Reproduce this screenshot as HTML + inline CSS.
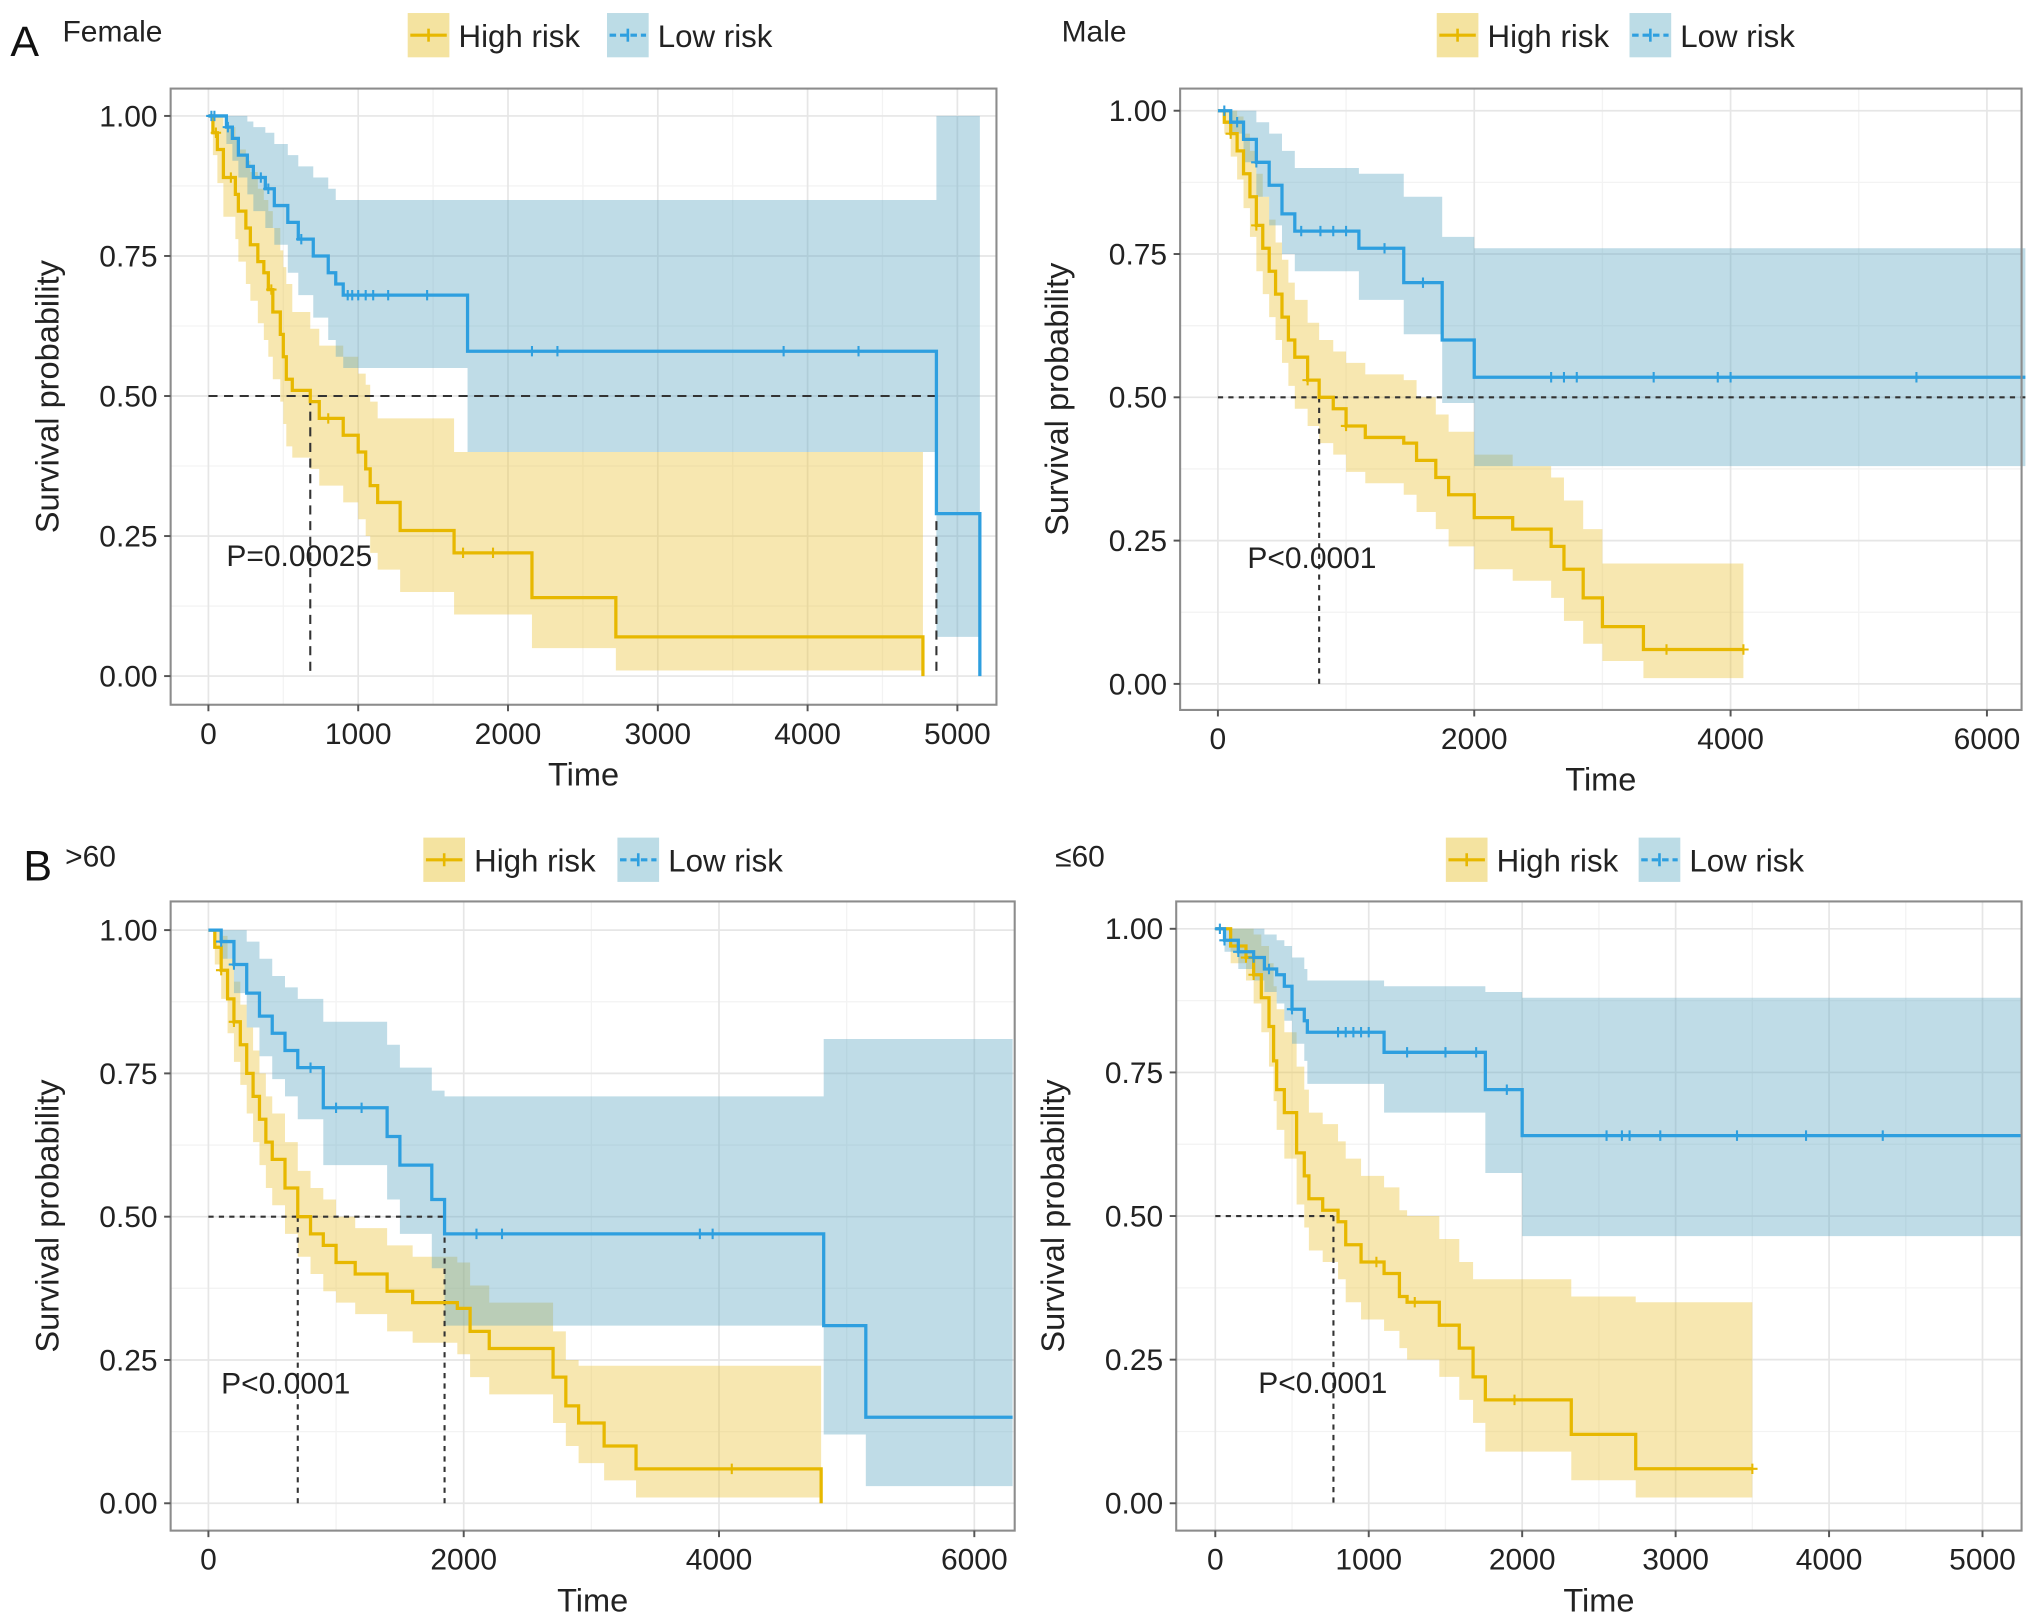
<!DOCTYPE html>
<html><head><meta charset="utf-8"><style>
html,body{margin:0;padding:0;background:#fff;}
svg{display:block;font-family:"Liberation Sans",Arial,sans-serif;}
</style></head><body>
<svg id="chart" xmlns="http://www.w3.org/2000/svg" width="2032" height="1614" viewBox="0 0 1560 1239" preserveAspectRatio="none"></svg>
<script>
// ---------- Female ----------
const fHighT=[0,30,60,100,180,200,250,280,330,370,400,430,480,500,520,560,680,740,900,1000,1050,1080,1130,1280,1640,2160,2720,4770];
const fHighS=[1,.97,.94,.89,.86,.83,.80,.77,.74,.72,.69,.65,.61,.57,.53,.51,.49,.46,.43,.40,.37,.34,.31,.26,.22,.14,.07,0];
const fHighHi=[1,1,1,.98,.96,.94,.92,.90,.87,.85,.83,.80,.76,.73,.70,.65,.62,.59,.57,.54,.52,.49,.46,.46,.40,.40,.40,0];
const fHighLo=[1,.93,.88,.82,.78,.74,.70,.67,.63,.60,.57,.53,.49,.45,.41,.39,.37,.34,.31,.28,.25,.22,.19,.15,.11,.05,.01,0];
const fHighCens=[50,150,420,800,1700,1900];
const fLowT=[0,120,160,200,260,300,380,440,530,600,700,800,850,900,1730,4860,5150];
const fLowS=[1,.98,.96,.93,.91,.89,.87,.84,.81,.78,.75,.72,.70,.68,.58,.29,0];
const fLowHi=[1,1,1,1,.99,.98,.97,.95,.93,.91,.89,.87,.85,.85,.85,1,0];
const fLowLo=[1,.95,.92,.89,.86,.83,.80,.77,.72,.68,.64,.60,.57,.55,.40,.07,0];
const fLowCens=[20,40,130,350,400,620,930,960,1000,1050,1100,1200,1460,2160,2330,3840,4340];
// ---------- Male ----------
const mHighT=[0,50,100,150,200,250,300,350,400,450,500,550,600,700,790,900,1000,1150,1450,1550,1700,1800,2000,2300,2600,2700,2850,3000,3320];
const mHighS=[1,.98,.96,.93,.89,.85,.80,.76,.72,.68,.64,.60,.57,.53,.50,.48,.45,.43,.42,.39,.36,.33,.29,.27,.24,.20,.15,.10,.06];
const mHighHi=[1,1,1,.99,.96,.93,.89,.85,.81,.77,.74,.70,.67,.63,.60,.58,.56,.54,.53,.50,.47,.44,.40,.38,.36,.32,.27,.21,.21];
const mHighLo=[1,.96,.92,.88,.83,.78,.72,.68,.64,.60,.56,.52,.48,.45,.42,.40,.37,.35,.33,.30,.27,.24,.20,.18,.15,.11,.07,.04,.01];
const mHighCens=[100,300,700,1000,3500,4100];
const mLowT=[0,100,200,300,400,500,600,1100,1450,1750,2000];
const mLowS=[1,.98,.95,.91,.87,.82,.79,.76,.70,.60,.535];
const mLowHi=[1,1,1,.98,.96,.93,.90,.89,.85,.78,.76];
const mLowLo=[1,.96,.91,.85,.80,.75,.72,.67,.61,.49,.38];
const mLowCens=[50,150,300,650,800,900,1000,1300,1600,2600,2700,2800,3400,3900,4000,5450];
// ---------- >60 ----------
const oHighT=[0,50,100,150,200,250,300,350,400,450,500,600,700,800,900,1000,1150,1400,1600,1950,2050,2200,2700,2800,2900,3100,3350,4800];
const oHighS=[1,.97,.93,.88,.84,.80,.75,.71,.67,.63,.60,.55,.50,.47,.45,.42,.40,.37,.35,.34,.30,.27,.22,.17,.14,.10,.06,0];
const oHighHi=[1,1,.99,.95,.91,.87,.83,.79,.75,.71,.68,.63,.58,.55,.53,.50,.48,.45,.43,.42,.38,.35,.30,.25,.24,.24,.24,0];
const oHighLo=[1,.94,.88,.82,.77,.73,.68,.63,.59,.55,.52,.47,.43,.40,.37,.35,.33,.30,.28,.26,.22,.19,.14,.10,.07,.04,.01,0];
const oHighCens=[100,200,4100];
const oLowT=[0,100,200,300,400,500,600,700,900,1400,1500,1750,1850,4820,5150];
const oLowS=[1,.98,.94,.89,.85,.82,.79,.76,.69,.64,.59,.53,.47,.31,.15];
const oLowHi=[1,1,1,.98,.95,.92,.90,.88,.84,.80,.76,.72,.71,.81,.81];
const oLowLo=[1,.95,.89,.83,.78,.74,.71,.67,.59,.53,.47,.41,.31,.12,.03];
const oLowCens=[100,200,800,1000,1200,2100,2300,3850,3950];
// ---------- <=60 ----------
const yHighT=[0,100,200,250,300,350,380,400,450,530,580,610,700,800,850,950,1100,1200,1250,1460,1590,1680,1760,2320,2740];
const yHighS=[1,.97,.95,.92,.88,.83,.77,.72,.68,.61,.57,.53,.51,.49,.45,.42,.40,.36,.35,.31,.27,.22,.18,.12,.06];
const yHighHi=[1,1,1,.99,.97,.94,.90,.86,.82,.76,.72,.68,.66,.63,.60,.57,.55,.51,.50,.46,.42,.39,.39,.36,.35];
const yHighLo=[1,.94,.91,.87,.82,.76,.70,.65,.60,.52,.48,.44,.42,.39,.35,.32,.30,.27,.25,.22,.18,.14,.09,.04,.01];
const yHighCens=[150,200,250,1050,1300,1950,3500];
const yLowT=[0,60,150,250,320,400,450,500,580,600,1100,1760,2000];
const yLowS=[1,.98,.96,.95,.93,.92,.90,.86,.84,.82,.785,.72,.64];
const yLowHi=[1,1,1,1,.99,.98,.97,.95,.93,.91,.90,.89,.88];
const yLowLo=[1,.96,.93,.91,.89,.87,.84,.80,.77,.73,.68,.575,.465];
const yLowCens=[30,60,150,250,350,500,800,850,900,950,1000,1250,1500,1700,1900,2550,2650,2700,2900,3400,3850,4350];
const yTicks=["0.00","0.25","0.50","0.75","1.00"];

const NS="http://www.w3.org/2000/svg";
const svg=document.getElementById('chart');
function el(tag,attrs,parent,text){const e=document.createElementNS(NS,tag);for(const k in attrs)e.setAttribute(k,attrs[k]);if(text!==undefined)e.textContent=text;(parent||svg).appendChild(e);return e;}
const HC="#E7B800",LC="#2E9FDF";

const panels=[
 {name:'female',box:[131,68,765,541],x0:160,xPer:115,y1:89,y0:519,xTicks:[0,1000,2000,3000,4000,5000],xMinor:500,
  high:[fHighT,fHighS,fHighHi,fHighLo,fHighCens,4770],low:[fLowT,fLowS,fLowHi,fLowLo,fLowCens,5150],
  pText:"P=0.00025",pT:120,pY:.215,medH:[680,4860],medLine:4860,dash:"7,5",
  title:"Female",titleX:48,letter:"A",letterX:8,legY:10,legX:313,leg2:466},
 {name:'male',box:[906,68,1552,545],x0:935,xPer:98.4,y1:85,y0:525,xTicks:[0,2000,4000,6000],xMinor:1000,
  high:[mHighT,mHighS,mHighHi,mHighLo,mHighCens,4100],low:[mLowT,mLowS,mLowHi,mLowLo,mLowCens,6300],
  pText:"P<0.0001",pT:230,pY:.22,medH:[790],medLine:6300,dash:"4,4",
  title:"Male",titleX:815,legY:10,legX:1103,leg2:1251},
 {name:'over60',box:[131,692,779,1175],x0:160,xPer:98,y1:714,y0:1154,xTicks:[0,2000,4000,6000],xMinor:1000,
  high:[oHighT,oHighS,oHighHi,oHighLo,oHighCens,4800],low:[oLowT,oLowS,oLowHi,oLowLo,oLowCens,6300],
  pText:"P<0.0001",pT:100,pY:.21,medH:[700,1850],medLine:1850,dash:"4,4",
  title:">60",titleX:50,letter:"B",letterX:18,legY:643,legX:325,leg2:474},
 {name:'under60',box:[903,692,1552,1175],x0:933,xPer:117.8,y1:713,y0:1154,xTicks:[0,1000,2000,3000,4000,5000],xMinor:500,
  high:[yHighT,yHighS,yHighHi,yHighLo,yHighCens,3500],low:[yLowT,yLowS,yLowHi,yLowLo,yLowCens,5250],
  pText:"P<0.0001",pT:280,pY:.21,medH:[770],medLine:770,dash:"4,4",
  title:"≤60",titleX:810,legY:643,legX:1110,leg2:1258}
];

function stepAt(T,S,t){let v=S[0];for(let i=0;i<T.length;i++){if(T[i]<=t)v=S[i];}return v;}

panels.forEach(p=>{
 const g=el('g',{});
 
 
 const X=t=>p.x0+t/1000*p.xPer, Y=v=>p.y0-(p.y0-p.y1)*v;
 const [bx0,by0,bx1,by1]=p.box;
 el('rect',{x:bx0,y:by0,width:bx1-bx0,height:by1-by0,fill:'#fff'},g);
 for(let v=0.125;v<1.1;v+=0.25) el('line',{x1:bx0,x2:bx1,y1:Y(v),y2:Y(v),stroke:'#f3f3f3','stroke-width':1},g);
 for(let t=p.xMinor;X(t)<bx1;t+=p.xMinor*2) el('line',{x1:X(t),x2:X(t),y1:by0,y2:by1,stroke:'#f3f3f3','stroke-width':1},g);
 yTicks.forEach(s=>{const y=Y(+s);el('line',{x1:bx0,x2:bx1,y1:y,y2:y,stroke:'#e6e6e6','stroke-width':1.3},g);});
 p.xTicks.forEach(t=>el('line',{x1:X(t),x2:X(t),y1:by0,y2:by1,stroke:'#e6e6e6','stroke-width':1.3},g));
 function band(s,col,op,nm){
  const [T,S,Hi,Lo,C,end]=s;let n=T.length;
  if(S[n-1]===0)n=n-1;
  const ends=T.slice(1,n).concat([end]);
  let d=`M${X(T[0])},${Y(Hi[0])}`;
  for(let i=0;i<n;i++){d+=`V${Y(Hi[i])}H${X(ends[i])}`;}
  for(let i=n-1;i>=0;i--){d+=`V${Y(Lo[i])}H${X(T[i])}`;}
  d+='Z';
  const b=el('path',{d:d,fill:col,'fill-opacity':op},g);
  
  
 }
 band(p.high,'#EAC43A',0.4,'high-risk');
 band(p.low,'#5FA8C2',0.4,'low-risk');
 const yh=Y(0.5);
 el('line',{x1:X(0),x2:X(p.medLine),y1:yh,y2:yh,stroke:'#333','stroke-width':1.6,'stroke-dasharray':p.dash},g);
 p.medH.forEach(t=>el('line',{x1:X(t),x2:X(t),y1:yh,y2:Y(0),stroke:'#333','stroke-width':1.6,'stroke-dasharray':p.dash},g));
 function curve(s,col,nm){
  const [T,S,Hi,Lo,C,end]=s;
  let d=`M${X(T[0])},${Y(S[0])}`;
  for(let i=1;i<T.length;i++)d+=`H${X(T[i])}V${Y(S[i])}`;
  d+=`H${X(end)}`;
  const c=el('path',{d:d,fill:'none',stroke:col,'stroke-width':2.5},g);
  
  
  C.forEach(t=>{const x=X(t),y=Y(stepAt(T,S,t));
   const m=el('path',{d:`M${x-4},${y}H${x+4}M${x},${y-4}V${y+4}`,stroke:col,'stroke-width':1.6},g);
   
   });
 }
 curve(p.high,HC,'high-risk');
 curve(p.low,LC,'low-risk');
 el('rect',{x:bx0,y:by0,width:bx1-bx0,height:by1-by0,fill:'none',stroke:'#8c8c8c','stroke-width':1.6},g);
 yTicks.forEach(s=>{const y=Y(+s);el('line',{x1:bx0-5,x2:bx0,y1:y,y2:y,stroke:'#555','stroke-width':1.5},g);
  const tx=el('text',{x:bx0-10,y:y+8,'text-anchor':'end','font-size':23,fill:'#222'},g,s);
  });
 p.xTicks.forEach(t=>{const x=X(t);el('line',{x1:x,x2:x,y1:by1,y2:by1+5,stroke:'#555','stroke-width':1.5},g);
  const tx=el('text',{x:x,y:by1+30,'text-anchor':'middle','font-size':23,fill:'#222'},g,String(t));
  });
 const xt=el('text',{x:(bx0+bx1)/2,y:by1+62,'text-anchor':'middle','font-size':25,fill:'#222'},g,'Time');
 
 const ycx=bx0-86,ycy=(by0+by1)/2;
 const yt=el('text',{x:ycx,y:ycy,'text-anchor':'middle','font-size':25,fill:'#222',transform:`rotate(-90 ${ycx} ${ycy})`},g,'Survival probability');
 
 const pt=el('text',{x:X(p.pT),y:Y(p.pY)+8,'font-size':23,fill:'#222'},g,p.pText);
 
 const tt=el('text',{x:p.titleX,y:p.legY+22,'font-size':23,fill:'#222'},g,p.title);
 
 if(p.letter){const lt=el('text',{x:p.letterX,y:p.legY+33,'font-size':33,fill:'#111'},g,p.letter);
  }
 [[p.legX,'#F4E3A0',HC,'High risk','high-risk-legend-entry',false],[p.leg2,'#BCDCE6',LC,'Low risk','low-risk-legend-entry',true]].forEach(L=>{
  const lg=el('g',{},g);
  
  const ly=p.legY;
  el('rect',{x:L[0],y:ly,width:32,height:34,fill:L[1]},lg);
  el('line',{x1:L[0]+2,x2:L[0]+30,y1:ly+17,y2:ly+17,stroke:L[2],'stroke-width':2.4,'stroke-dasharray':L[5]?'5,3':'none'},lg);
  el('line',{x1:L[0]+16,x2:L[0]+16,y1:ly+12,y2:ly+22,stroke:L[2],'stroke-width':2},lg);
  el('text',{x:L[0]+39,y:ly+26,'font-size':24,fill:'#222'},lg,L[3]);
 });
});
</script>
</body></html>
